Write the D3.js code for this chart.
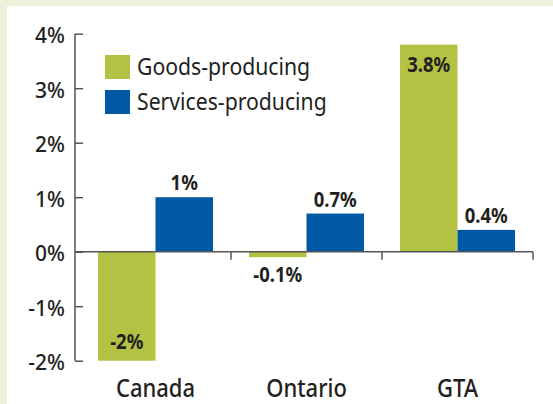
<!DOCTYPE html>
<html>
<head>
<meta charset="utf-8">
<script src="https://cdn.jsdelivr.net/npm/d3@7"></script>
<style>
  html, body { margin: 0; padding: 0; background: #eef0da; }
  svg { display: block; }
  text { font-family: "Noto Sans", sans-serif; fill: #231f20; }
</style>
</head>
<body>
<svg id="chart"></svg>
<script>
// data
const categories = ['Canada', 'Ontario', 'GTA'];
const seriesNames = ['Goods-producing', 'Services-producing'];
const goods = [-2, -0.1, 3.8];
const services = [1, 0.7, 0.4];
const valueLabels = [['-2%', '-0.1%', '3.8%'], ['1%', '0.7%', '0.4%']];
const yTicks = [-2, -1, 0, 1, 2, 3, 4];
const colors = ['#b3c242', '#0059a5'];

const width = 553, height = 404;
const stretch = 1.15; // reference type is taller than it is wide
const svg = d3.select('#chart').attr('width', width).attr('height', height);

// white panel
svg.append('rect').attr('x', 7).attr('y', 6).attr('width', width - 7).attr('height', height - 6).attr('fill', '#fff');

const y = d3.scaleLinear().domain([-2, 4]).range([360.7, 33.7]);
const x0 = d3.scaleBand().domain(categories).range([80, 533]);
const x1 = d3.scaleBand().domain(seriesNames).range([18, 133]);

const rows = categories.map((c, i) => ({
  cat: c,
  vals: [goods[i], services[i]].map((v, j) => ({ s: seriesNames[j], v, label: valueLabels[j][i], j }))
}));

const place = (x, yy) => `translate(${x},${yy}) scale(1,${stretch})`;

// y axis
const yAxis = svg.append('g').attr('transform', 'translate(75,0)')
  .call(d3.axisRight(y).tickValues(yTicks).tickSize(8).tickFormat(''));
yAxis.select('.domain').attr('d', `M0,${y(4)}V${y(-2)}`);
yAxis.selectAll('line, path').attr('stroke', '#555').attr('stroke-width', 1.5);

svg.append('g').selectAll('text').data(yTicks).enter().append('text')
  .attr('x', 65).attr('y', d => y(d) + 9.5)
  .attr('text-anchor', 'end').attr('font-size', 21).attr('font-weight', 500)
  .text(d => d + '%');

// bars
const groups = svg.append('g').selectAll('g').data(rows).enter().append('g')
  .attr('transform', d => `translate(${x0(d.cat)},0)`);

groups.selectAll('rect').data(d => d.vals).enter().append('rect')
  .attr('x', d => x1(d.s))
  .attr('width', x1.bandwidth())
  .attr('y', d => y(Math.max(0, d.v)))
  .attr('height', d => Math.abs(y(d.v) - y(0)))
  .attr('fill', d => colors[d.j]);

// value labels (baselines)
const labelY = d => {
  if (d.v >= 3) return y(d.v) + 27;      // inside tall bar
  if (d.v <= -1) return y(d.v) - 12;     // inside deep negative bar
  if (d.v < 0) return y(d.v) + 25;       // below small negative bar
  return y(d.v) - 7;
};
groups.selectAll('text').data(d => d.vals).enter().append('text')
  .attr('transform', d => place(x1(d.s) + x1.bandwidth() / 2, labelY(d)))
  .attr('text-anchor', 'middle').attr('font-size', 18.5).attr('font-weight', 'bold')
  .text(d => d.label);

// x axis at zero
const xAxis = svg.append('g').attr('transform', `translate(0,${y(0)})`);
xAxis.append('line').attr('x1', 75).attr('x2', 533).attr('stroke', '#555').attr('stroke-width', 1.5);
xAxis.selectAll('line.tick').data(categories).enter().append('line')
  .attr('class', 'tick')
  .attr('x1', d => x0(d) + x0.bandwidth()).attr('x2', d => x0(d) + x0.bandwidth())
  .attr('y1', 0).attr('y2', 8).attr('stroke', '#555').attr('stroke-width', 1.5);

svg.append('g').selectAll('text').data(categories).enter().append('text')
  .attr('transform', d => place(x0(d) + x0.bandwidth() / 2, 397))
  .attr('text-anchor', 'middle').attr('font-size', 22).attr('font-weight', 500)
  .text(d => d);

// legend
const legend = svg.append('g').selectAll('g').data(seriesNames).enter().append('g')
  .attr('transform', (d, i) => `translate(105,${55 + i * 35})`);
legend.append('rect').attr('width', 25).attr('height', 24).attr('fill', (d, i) => colors[i]);
legend.append('text').attr('transform', place(32, 20))
  .attr('font-size', 21.2).attr('fill', '#333').text(d => d);
</script>
</body>
</html>
